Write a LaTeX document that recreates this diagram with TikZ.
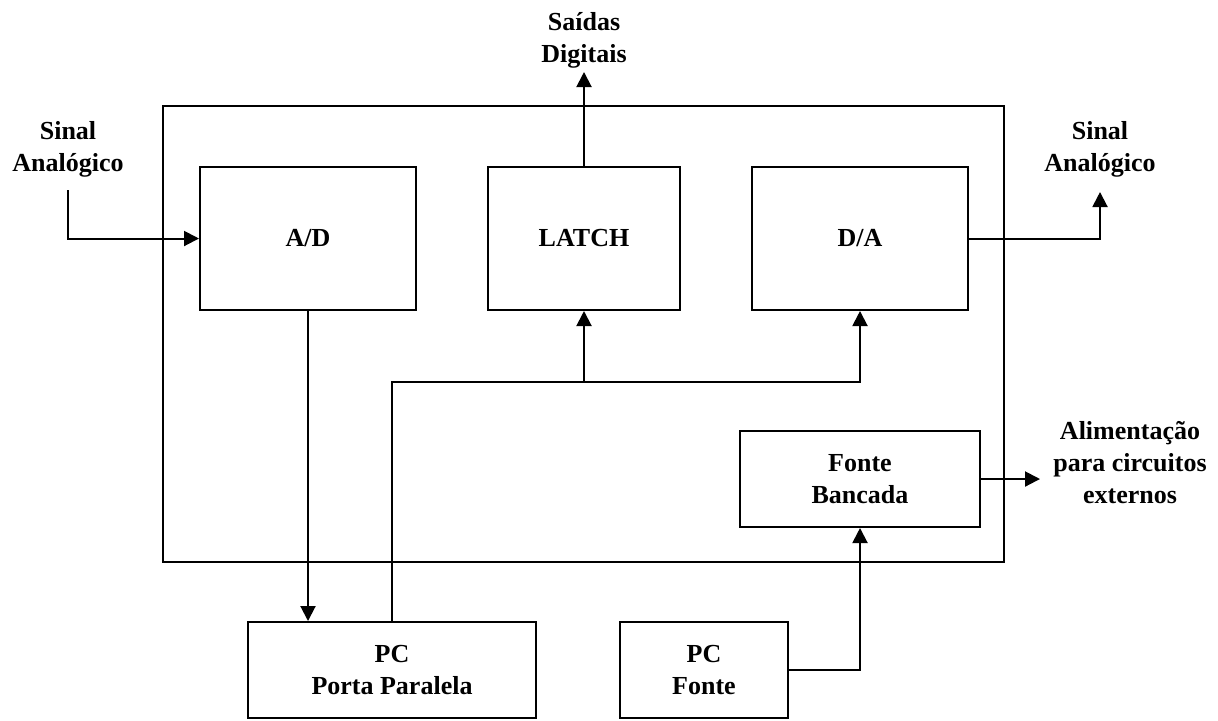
\documentclass[tikz,border=0pt]{standalone}
\usepackage{fontspec}
\setmainfont{Liberation Serif}
\usetikzlibrary{arrows.meta}

\begin{document}
\begin{tikzpicture}[x=0.5pt,y=-0.5pt,
  every node/.style={font=\fontsize{13}{16}\selectfont\bfseries},
  bloco/.style={draw,line width=1pt,inner sep=0pt,align=center},
  rotulo/.style={align=center,inner sep=0pt},
  fio/.style={line width=1pt},
  seta/.style={fio,-{Triangle[length=7.5pt,width=7.5pt]}}]

  \useasboundingbox (0,0) rectangle (1218,720);

  % placa
  \node[bloco,minimum width=420.5pt,minimum height=228pt] (placa) at (583.5,334) {};

  % blocos internos
  \node[bloco,minimum width=108pt,minimum height=71.5pt] (AD) at (308,238.5) {A/D};
  \node[bloco,minimum width=96pt,minimum height=71.5pt] (LATCH) at (584,238.5) {LATCH};
  \node[bloco,minimum width=108pt,minimum height=71.5pt] (DA) at (860,238.5) {D/A};
  \node[bloco,minimum width=120pt,minimum height=48pt] (FB) at (860,479) {Fonte\\Bancada};

  % PC
  \node[bloco,minimum width=144pt,minimum height=48pt] (PCPP) at (392,670) {PC\\Porta Paralela};
  \node[bloco,minimum width=84pt,minimum height=48pt] (PCF) at (704,670) {PC\\Fonte};

  % rotulos
  \node[rotulo] (sinalE) at (68,149) {Sinal\\Analógico};
  \node[rotulo] (saidas) at (584,40) {Saídas\\Digitais};
  \node[rotulo] (sinalS) at (1100,149) {Sinal\\Analógico};
  \node[rotulo] (alim) at (1130,463) {Alimentação\\para circuitos\\externos};

  \coordinate (entrada) at (68,190);
  \coordinate (saidaD) at (584,72);
  \coordinate (saidaA) at (1100,192);
  \coordinate (saidaF) at (1040,479);
  \coordinate (barra) at (584,382);

  % ligacoes
  \draw[seta] (entrada) |- (AD.west);
  \draw[seta] (LATCH.north) -- (saidaD);
  \draw[seta] (DA.east) -| (saidaA);
  \draw[seta] (AD.south) -- (AD.south |- PCPP.north);
  \draw[seta] (PCPP.north) |- (barra) -| (DA.south);
  \draw[seta] (barra) -- (LATCH.south);
  \draw[seta] (FB.east) -- (saidaF);
  \draw[seta] (PCF.east) -| (FB.south);
\end{tikzpicture}
\end{document}
